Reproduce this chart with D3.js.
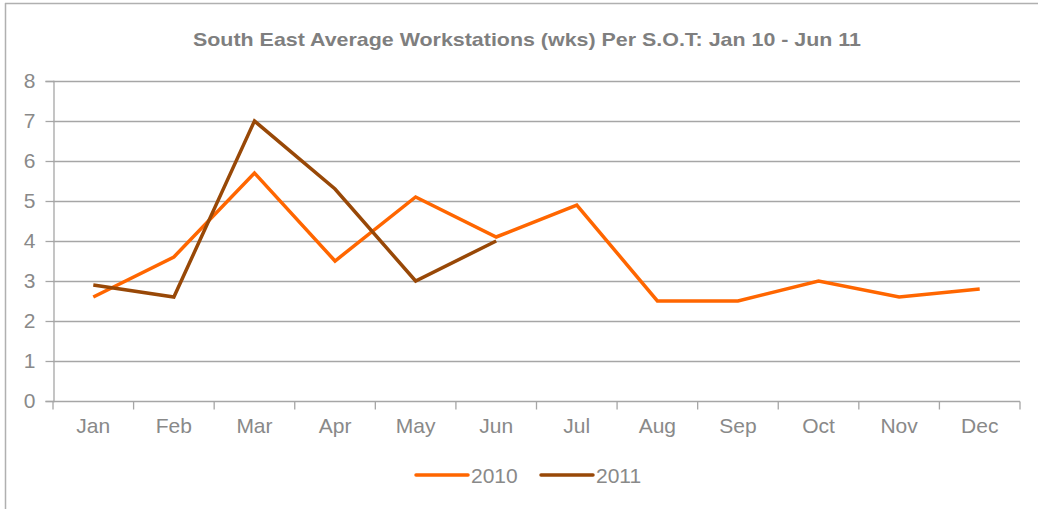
<!DOCTYPE html>
<html>
<head>
<meta charset="utf-8">
<script src="https://cdn.jsdelivr.net/npm/d3@7"></script>
<style>
  body { margin: 0; background: #fff; }
  svg text { font-family: "Liberation Sans", Arial, sans-serif; }
</style>
</head>
<body>
<svg id="chart" width="1038" height="509"></svg>
<script>
const months = ["Jan", "Feb", "Mar", "Apr", "May", "Jun", "Jul", "Aug", "Sep", "Oct", "Nov", "Dec"];
const values2010 = [2.6, 3.6, 5.7, 3.5, 5.1, 4.1, 4.9, 2.5, 2.5, 3.0, 2.6, 2.8];
const values2011 = [2.9, 2.6, 7.0, 5.3, 3.0, 4.0];
const seriesNames = ["2010", "2011"];
const yTicks = [0, 1, 2, 3, 4, 5, 6, 7, 8];

const colors = ["#ff6600", "#984807"];
const textColor = "#898989";
const gridColor = "#a6a6a6";

const margin = { left: 53, right: 18, top: 81, bottom: 108 };
const width = 1038, height = 509;

const svg = d3.select("#chart");

// outer frame (only top and left edges are visible)
svg.append("line")
    .attr("x1", 5).attr("x2", width).attr("y1", 3.5).attr("y2", 3.5)
    .attr("stroke", "#b0b0b0").attr("stroke-width", 1.5);
svg.append("line")
    .attr("x1", 5.5).attr("x2", 5.5).attr("y1", 3).attr("y2", height)
    .attr("stroke", "#b0b0b0").attr("stroke-width", 1.5);

svg.append("text")
    .attr("x", 527).attr("y", 46)
    .attr("text-anchor", "middle")
    .attr("font-size", 19).attr("font-weight", "bold")
    .attr("fill", "#7f7f7f")
    .attr("textLength", 668).attr("lengthAdjust", "spacingAndGlyphs")
    .text("South East Average Workstations (wks) Per S.O.T: Jan 10 - Jun 11");

const x = d3.scaleBand()
    .domain(months)
    .range([margin.left, width - margin.right]);

const y = d3.scaleLinear()
    .domain([0, 8])
    .range([height - margin.bottom, margin.top]);

// gridlines
svg.append("g")
    .selectAll("line")
    .data(yTicks)
    .join("line")
    .attr("x1", margin.left).attr("x2", width - margin.right)
    .attr("y1", d => Math.round(y(d)) + 0.5).attr("y2", d => Math.round(y(d)) + 0.5)
    .attr("stroke", gridColor).attr("stroke-width", 1.3);

// y axis
const gy = svg.append("g")
    .attr("transform", "translate(" + (margin.left + 0.5) + ",0)")
    .call(d3.axisLeft(y).tickValues(yTicks).tickSize(8).tickPadding(10).tickFormat(d3.format("d")));
gy.select(".domain").attr("stroke", gridColor).attr("stroke-width", 1.3);
gy.selectAll(".tick line").attr("stroke", gridColor).attr("stroke-width", 1.3);
gy.selectAll("text").attr("fill", textColor).attr("font-size", 21);

// x axis with ticks on band boundaries
const gx = svg.append("g")
    .attr("transform", "translate(0," + (Math.round(y(0)) + 0.5) + ")")
    .call(d3.axisBottom(x).tickSize(0).tickPadding(17));
gx.select(".domain").remove();
gx.selectAll("text").attr("fill", textColor).attr("font-size", 21);
svg.append("g")
    .attr("transform", "translate(0," + (Math.round(y(0)) + 0.5) + ")")
    .selectAll("line")
    .data(months.map(m => x(m)).concat([x.range()[1]]))
    .join("line")
    .attr("x1", d => d).attr("x2", d => d)
    .attr("y1", 0).attr("y2", 8)
    .attr("stroke", gridColor).attr("stroke-width", 1.3);

// lines
const line = d3.line()
    .x((d, i) => x(months[i]) + x.bandwidth() / 2)
    .y(d => y(d));

[values2010, values2011].forEach((vals, i) => {
    svg.append("path")
        .datum(vals)
        .attr("d", line)
        .attr("fill", "none")
        .attr("stroke", colors[i])
        .attr("stroke-width", 3.5)
        .attr("stroke-linejoin", "miter");
});

// legend
const legendX = [416, 541];
const legend = svg.append("g");
seriesNames.forEach((name, i) => {
    legend.append("line")
        .attr("x1", legendX[i]).attr("x2", legendX[i] + 52)
        .attr("y1", 475).attr("y2", 475)
        .attr("stroke", colors[i]).attr("stroke-width", 3.5)
        .attr("stroke-linecap", "round");
    legend.append("text")
        .attr("x", legendX[i] + 55).attr("y", 483)
        .attr("fill", textColor).attr("font-size", 21)
        .text(name);
});
</script>
</body>
</html>
